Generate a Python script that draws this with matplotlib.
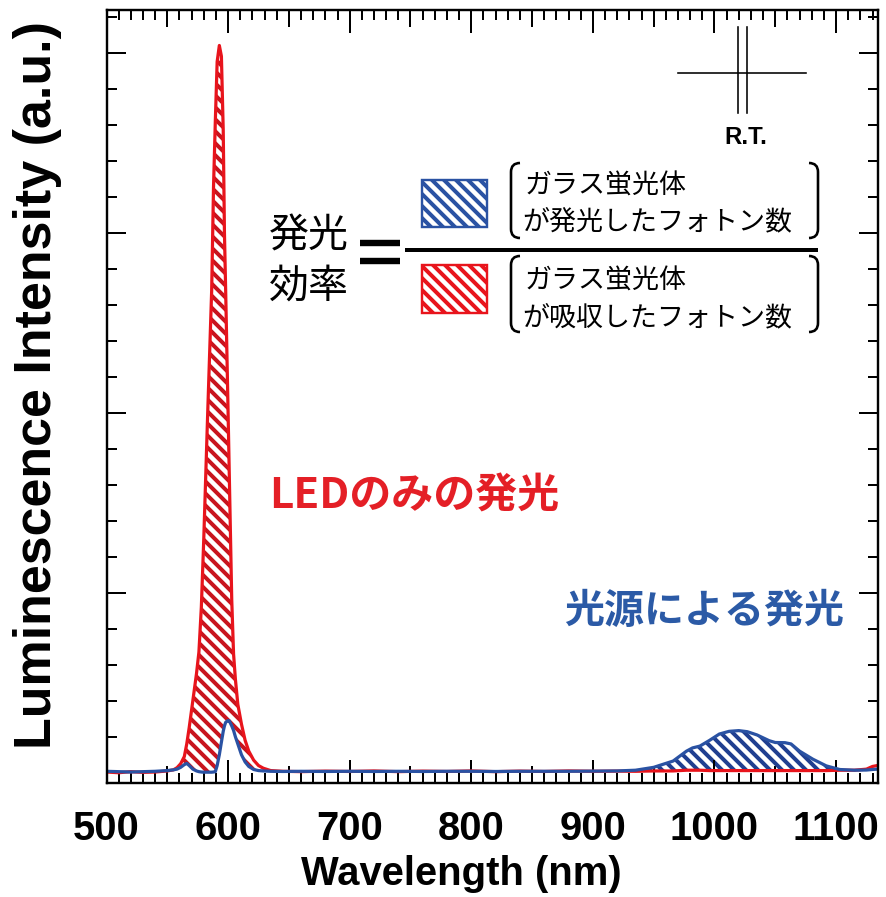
import numpy as np
import matplotlib
matplotlib.use('Agg')
import matplotlib.pyplot as plt
from matplotlib.lines import Line2D
from matplotlib.patches import Rectangle, PathPatch
from matplotlib.path import Path
from matplotlib.ticker import FixedLocator

W, H, DPI = 886, 897, 144
plt.rcParams['hatch.linewidth'] = 2.0
LAT = 'Liberation Sans'
JP = ['Noto Sans CJK JP', 'DejaVu Sans']
HATCH = '\\\\\\\\'

# ---------------- data ----------------
wavelength = [500, 510, 520, 530, 540, 550, 555, 558, 561, 564, 566, 568, 571, 574, 576, 578,
              580, 583, 586.5, 588, 589.5, 591, 592.8, 594.5, 596, 597, 598, 600, 601, 603,
              604.5, 606, 608, 611, 614, 617, 621, 625, 629, 635, 645, 660, 680, 700, 720,
              740, 760, 780, 800, 820, 840, 860, 880, 900, 920, 935, 950, 966, 977, 982,
              988, 996, 1004, 1012, 1020, 1027, 1035, 1045, 1050, 1058, 1063, 1070, 1081,
              1092, 1103, 1115, 1125, 1130, 1134]
led_only = [0.004, 0.000, 0.006, 0.002, 0.004, 0.010, 0.016, 0.028, 0.050, 0.090, 0.160, 0.250,
            0.400, 0.550, 0.670, 0.920, 1.300, 1.950, 2.680, 3.250, 3.620, 3.950, 4.040, 3.980,
            3.570, 3.000, 2.680, 2.000, 1.650, 0.960, 0.660, 0.520, 0.380, 0.270, 0.180, 0.120,
            0.070, 0.040, 0.025, 0.012, 0.008, 0.006, 0.009, 0.007, 0.010, 0.006, 0.009, 0.007,
            0.010, 0.006, 0.009, 0.007, 0.010, 0.008, 0.009, 0.008, 0.010, 0.010, 0.014, 0.014,
            0.014, 0.012, 0.012, 0.012, 0.012, 0.012, 0.012, 0.012, 0.012, 0.012, 0.012, 0.012,
            0.012, 0.012, 0.014, 0.014, 0.020, 0.035, 0.040]
with_phosphor = [0.008, 0.006, 0.004, 0.006, 0.008, 0.012, 0.016, 0.020, 0.030, 0.045, 0.052,
                 0.040, 0.020, 0.010, 0.006, 0.004, 0.003, 0.003, 0.003, 0.004, 0.006, 0.040,
                 0.100, 0.170, 0.230, 0.260, 0.280, 0.290, 0.288, 0.260, 0.235, 0.200, 0.160,
                 0.100, 0.060, 0.035, 0.018, 0.012, 0.010, 0.008, 0.007, 0.008, 0.007, 0.008,
                 0.007, 0.008, 0.007, 0.008, 0.008, 0.007, 0.008, 0.008, 0.008, 0.009, 0.010,
                 0.014, 0.030, 0.065, 0.120, 0.138, 0.148, 0.180, 0.215, 0.230, 0.234, 0.228,
                 0.210, 0.178, 0.168, 0.167, 0.160, 0.120, 0.075, 0.038, 0.018, 0.014, 0.015,
                 0.018, 0.020]

x_major = [500, 600, 700, 800, 900, 1000, 1100]
x_major_labels = ['500', '600', '700', '800', '900', '1000', '1100']
x_mid = [550, 650, 750, 850, 950, 1050]
x_minor = [v for v in range(500, 1135, 10) if v % 50 != 0]
y_major = [1, 2, 3, 4]
y_minor = [0.2, 0.4, 0.6, 0.8, 1.2, 1.4, 1.6, 1.8, 2.2, 2.4, 2.6, 2.8, 3.2, 3.4, 3.6, 3.8, 4.2]

RED = '#e8141c'
RED_H = '#c8141e'
BLUE = '#2a52a3'
BLUE_H = '#203f90'

wl = np.array(wavelength)
r = np.array(led_only)
b = np.array(with_phosphor)

fig = plt.figure(figsize=(W / DPI, H / DPI), dpi=DPI)
fig.patch.set_facecolor('white')
L, R, T, B = 106.5, 878.0, 10.0, 783.0
ax = fig.add_axes([L / W, 1 - B / H, (R - L) / W, (B - T) / H])
ax.set_xlim(500, 1134.5)
ax.set_ylim(-0.057, 4.237)

ax.fill_between(wl, r, b, where=(r > b) & (wl < 650), interpolate=True,
                facecolor='none', edgecolor=RED_H, linewidth=0, hatch=HATCH)
ax.fill_between(wl, b, r, where=(b > r) & (wl > 900), interpolate=True,
                facecolor='none', edgecolor=BLUE_H, linewidth=0, hatch=HATCH)
ax.plot(wl, r, color=RED, lw=1.6, solid_joinstyle='round')
ax.plot(wl, b, color=BLUE, lw=1.6, solid_joinstyle='round')

for s in ax.spines.values():
    s.set_linewidth(1.2)

ax.xaxis.set_major_locator(FixedLocator(x_major))
ax.set_xticklabels(x_major_labels)
ax.xaxis.set_minor_locator(FixedLocator(x_minor))
ax.yaxis.set_major_locator(FixedLocator(y_major))
ax.yaxis.set_minor_locator(FixedLocator(y_minor))
ax.tick_params(axis='x', which='major', direction='in', length=11.5, width=1.0,
               top=True, bottom=True, pad=13.5, labelsize=20)
ax.tick_params(axis='x', which='minor', direction='in', length=5.2, width=1.0,
               top=True, bottom=True)
ax.tick_params(axis='y', which='major', direction='in', length=9.5, width=1.0,
               left=True, right=True, labelleft=False)
ax.tick_params(axis='y', which='minor', direction='in', length=4.8, width=1.0,
               left=True, right=True)
for lab in ax.get_xticklabels():
    lab.set_fontfamily(LAT)
    lab.set_fontweight('bold')

for side in ('bottom', 'top'):
    sec = ax.secondary_xaxis(side)
    sec.set_xticks(x_mid)
    sec.tick_params(direction='in', length=8.3, width=1.0, labelbottom=False, labeltop=False)
    sec.spines[side].set_visible(False)

ax.set_xlabel('Wavelength (nm)', fontfamily=LAT, fontweight='bold', fontsize=20)
ax.xaxis.set_label_coords((461 - L) / (R - L), (B - 874) / (B - T))
ax.xaxis.label.set_va('center')
ax.set_ylabel('Luminescence Intensity (a.u.)', fontfamily=LAT, fontweight='bold', fontsize=26)
ax.yaxis.set_label_coords((38 - L) / (R - L), (B - 385) / (B - T))
ax.yaxis.label.set_va('center')

def fx(x):
    return x / W

def fy(y):
    return 1 - y / H

# in-plot labels
fig.text(fx(414), fy(497), 'LEDのみの発光', color='#e41f26', fontsize=21, fontweight='bold',
         family=JP, ha='center', va='center')
fig.text(fx(704), fy(611), '光源による発光', color='#2b5aa6', fontsize=20, fontweight='bold',
         family=JP, ha='center', va='center')

# R.T. symbol
fig.add_artist(Line2D([fx(678), fx(806)], [fy(73), fy(73)], color='black', lw=0.8))
for xv in (737.7, 747.3):
    fig.add_artist(Line2D([fx(xv), fx(xv)], [fy(27), fy(113)], color='black', lw=0.8))
fig.text(fx(746), fy(137), 'R.T.', fontfamily=LAT, fontweight='bold', fontsize=12,
         ha='center', va='center')

# formula
fig.text(fx(309), fy(237), '発光', family=JP, fontsize=20, ha='center', va='center')
fig.text(fx(309), fy(287), '効率', family=JP, fontsize=20, ha='center', va='center')
for yv in (242.5, 260.5):
    fig.add_artist(Line2D([fx(360), fx(400)], [fy(yv), fy(yv)], color='black', lw=3.2,
                          solid_capstyle='butt'))
fig.add_artist(Line2D([fx(405), fx(818)], [fy(250), fy(250)], color='black', lw=2.0,
                      solid_capstyle='butt'))

for (y0, y1, ec, hc) in ((180, 227, BLUE, BLUE_H), (265, 313, RED, RED_H)):
    fig.add_artist(Rectangle((fx(422), fy(y1)), (487 - 422) / W, (y1 - y0) / H,
                             transform=fig.transFigure, facecolor='white', edgecolor=ec,
                             lw=1.2, hatch=HATCH))

def bracket(x, y0, y1, d):
    h = 9
    verts = [(x + d * h, y0), (x, y0), (x, y0 + h), (x, y1 - h), (x, y1), (x + d * h, y1)]
    codes = [Path.MOVETO, Path.CURVE3, Path.CURVE3, Path.LINETO, Path.CURVE3, Path.CURVE3]
    verts = [(fx(a), fy(c)) for a, c in verts]
    fig.add_artist(PathPatch(Path(verts, codes), transform=fig.transFigure,
                             facecolor='none', edgecolor='black', lw=1.3))

for (y0, y1) in ((163, 238), (256, 332)):
    bracket(511, y0, y1, 1)
    bracket(818, y0, y1, -1)

fig.text(fx(525), fy(186), 'ガラス蛍光体', family=JP, fontsize=13.5, ha='left', va='center')
fig.text(fx(522), fy(222), 'が発光したフォトン数', family=JP, fontsize=13.5, ha='left', va='center')
fig.text(fx(525), fy(281), 'ガラス蛍光体', family=JP, fontsize=13.5, ha='left', va='center')
fig.text(fx(522), fy(318), 'が吸収したフォトン数', family=JP, fontsize=13.5, ha='left', va='center')

fig.savefig('out.png', dpi=DPI)
